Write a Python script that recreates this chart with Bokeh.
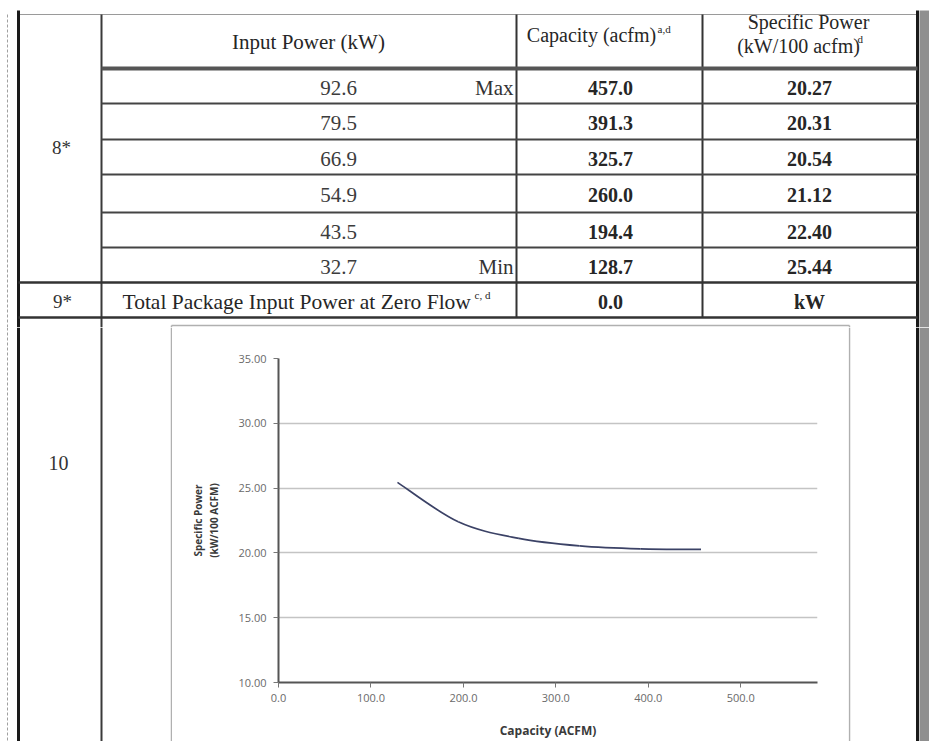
from bokeh.plotting import figure
from bokeh.layouts import column, row
from bokeh.models import Range1d, FixedTicker
from bokeh.core.properties import value
from bokeh.embed import file_html
from bokeh.resources import INLINE

# ---------------- data ----------------
input_power = [92.6, 79.5, 66.9, 54.9, 43.5, 32.7]          # kW
capacity = [457.0, 391.3, 325.7, 260.0, 194.4, 128.7]        # acfm
specific_power = [20.27, 20.31, 20.54, 21.12, 22.40, 25.44]  # kW/100 acfm
range_notes = ["Max", "", "", "", "", "Min"]
zero_flow_power = 0.0
zero_flow_unit = "kW"
row_labels = ["8*", "9*", "10"]
zero_flow_text = "Total Package Input Power at Zero Flow"
zero_flow_sup = "c, d"
header_input = "Input Power (kW)"
header_capacity = "Capacity (acfm)"
header_capacity_sup = "a,d"
header_specific = ["Specific Power", "(kW/100 acfm)"]
header_specific_sup = "d"
x_ticks = [0, 100, 200, 300, 400, 500]
x_tick_labels = ["0.0", "100.0", "200.0", "300.0", "400.0", "500.0"]
y_ticks = [10, 15, 20, 25, 30, 35]
y_tick_labels = ["10.00", "15.00", "20.00", "25.00", "30.00", "35.00"]
x_axis_title = "Capacity (ACFM)"
y_axis_title = "Specific Power\n(kW/100 ACFM)"

# ---------------- layout constants (reference pixel coords) ----------------
X0, X1 = 0, 929
Y0, YS, Y1 = 0, 327, 741
LEFT_B, LABEL_V, COL1_V, COL2_V, RIGHT_B = 18, 101, 516, 702, 917
BOX_L, BOX_R, BOX_T = 171, 849, 325
TOP_EDGE = 14
row_lines = [68, 103, 139, 174, 212, 247, 282, 317]

SERIF = value("Liberation Serif")
INK = "#262626"


def canvas(x0, x1, y0, y1):
    p = figure(width=int(x1 - x0), height=int(y1 - y0),
               x_range=Range1d(x0, x1), y_range=Range1d(y1, y0),
               output_backend="svg", toolbar_location=None,
               x_axis_location=None, y_axis_location=None, min_border=0)
    p.frame_align = False
    p.grid.visible = False
    p.outline_line_color = None
    p.background_fill_color = "white"
    p.border_fill_color = "white"
    return p


# ---------------- top part: table ----------------
top = canvas(X0, X1, Y0, YS)

# torn top edge, left torn edge and right shadow
top.segment(x0=[LEFT_B], y0=[TOP_EDGE], x1=[RIGHT_B], y1=[TOP_EDGE], line_color="#9a9a9a", line_width=1.2)
top.quad(left=[RIGHT_B + 2], right=[X1], top=[TOP_EDGE - 4], bottom=[YS], fill_color="#8f8f8f", line_color=None)
top.segment(x0=[7], y0=[TOP_EDGE], x1=[7], y1=[YS], line_color="#a0a0a0", line_width=1, line_dash="3 2")

# vertical rules
top.segment(x0=[LEFT_B, RIGHT_B], y0=[TOP_EDGE - 4, TOP_EDGE - 4], x1=[LEFT_B, RIGHT_B], y1=[YS, YS],
            line_color="#1a1a1a", line_width=3)
top.segment(x0=[LABEL_V], y0=[TOP_EDGE], x1=[LABEL_V], y1=[YS], line_color="#3a3a3a", line_width=2)
top.segment(x0=[COL1_V, COL2_V], y0=[TOP_EDGE, TOP_EDGE], x1=[COL1_V, COL2_V], y1=[row_lines[-1]] * 2,
            line_color="#333333", line_width=2)

# horizontal rules
top.segment(x0=[LABEL_V], y0=[row_lines[0]], x1=[RIGHT_B], y1=[row_lines[0]], line_color="#555555", line_width=4)
top.segment(x0=[LABEL_V] * 5, y0=row_lines[1:6], x1=[RIGHT_B] * 5, y1=row_lines[1:6],
            line_color="#444444", line_width=2)
top.segment(x0=[LEFT_B] * 2, y0=row_lines[6:], x1=[RIGHT_B] * 2, y1=row_lines[6:],
            line_color="#333333", line_width=2.6)

# chart box top edge (row 10)
top.segment(x0=[BOX_L, BOX_L, BOX_R], y0=[BOX_T, BOX_T, BOX_T], x1=[BOX_R, BOX_L, BOX_R], y1=[BOX_T, YS, YS],
            line_color="#b0b0b0", line_width=1.5)

# header texts
top.text(x=[308], y=[41], text=[header_input], text_font=SERIF, text_font_size="21px",
         text_align="center", text_baseline="middle", text_color=INK)
top.text(x=[591], y=[34], text=[header_capacity], text_font=SERIF, text_font_size="20px",
         text_align="center", text_baseline="middle", text_color=INK)
top.text(x=[657], y=[28], text=[header_capacity_sup], text_font=SERIF, text_font_size="11px",
         text_align="left", text_baseline="middle", text_color=INK)
top.text(x=[808, 798], y=[21, 45], text=header_specific, text_font=SERIF, text_font_size="20px",
         text_align="center", text_baseline="middle", text_color=INK)
top.text(x=[857], y=[38], text=[header_specific_sup], text_font=SERIF, text_font_size="11px",
         text_align="left", text_baseline="middle", text_color=INK)

# data rows
row_y = [(row_lines[i] + row_lines[i + 1]) / 2 + 1.5 for i in range(6)]
top.text(x=[338] * 6, y=row_y, text=[f"{v:.1f}" for v in input_power], text_font=SERIF,
         text_font_size="21px", text_align="center", text_baseline="middle", text_color="#3c3c3c")
top.text(x=[513] * 6, y=row_y, text=range_notes, text_font=SERIF,
         text_font_size="21px", text_align="right", text_baseline="middle", text_color="#333333")
top.text(x=[610] * 6, y=row_y, text=[f"{v:.1f}" for v in capacity], text_font=SERIF,
         text_font_size="20px", text_font_style="bold", text_align="center", text_baseline="middle",
         text_color=INK)
top.text(x=[809] * 6, y=row_y, text=[f"{v:.2f}" for v in specific_power], text_font=SERIF,
         text_font_size="20px", text_font_style="bold", text_align="center", text_baseline="middle",
         text_color=INK)

# row 9
y9 = (row_lines[6] + row_lines[7]) / 2 + 1.5
top.text(x=[122], y=[y9], text=[zero_flow_text], text_font=SERIF, text_font_size="21.5px",
         text_align="left", text_baseline="middle", text_color=INK)
top.text(x=[474], y=[y9 - 7], text=[zero_flow_sup], text_font=SERIF, text_font_size="11px",
         text_align="left", text_baseline="middle", text_color=INK)
top.text(x=[610, 809], y=[y9, y9], text=[f"{zero_flow_power:.1f}", zero_flow_unit], text_font=SERIF,
         text_font_size="20px", text_font_style="bold", text_align="center", text_baseline="middle",
         text_color=INK)

# row labels
top.text(x=[61, 62], y=[147, y9], text=row_labels[:2], text_font=SERIF, text_font_size="19px",
         text_align="center", text_baseline="middle", text_color="#333333")

# ---------------- bottom part: row 10 with chart ----------------
left = canvas(X0, BOX_L + 1, YS, Y1)
left.segment(x0=[7], y0=[YS], x1=[7], y1=[Y1], line_color="#a0a0a0", line_width=1, line_dash="3 2")
left.segment(x0=[LEFT_B], y0=[YS], x1=[LEFT_B], y1=[Y1], line_color="#1a1a1a", line_width=3)
left.segment(x0=[LABEL_V], y0=[YS], x1=[LABEL_V], y1=[Y1], line_color="#3a3a3a", line_width=2)
left.segment(x0=[BOX_L], y0=[YS], x1=[BOX_L], y1=[Y1], line_color="#b0b0b0", line_width=1.5)
left.text(x=[58], y=[462], text=[row_labels[2]], text_font=SERIF, text_font_size="20px",
          text_align="center", text_baseline="middle", text_color="#333333")

right = canvas(BOX_R - 1, X1, YS, Y1)
right.segment(x0=[BOX_R], y0=[YS], x1=[BOX_R], y1=[Y1], line_color="#b0b0b0", line_width=1.5)
right.quad(left=[RIGHT_B + 2], right=[X1], top=[YS], bottom=[Y1], fill_color="#8f8f8f", line_color=None)
right.segment(x0=[RIGHT_B], y0=[YS], x1=[RIGHT_B], y1=[Y1], line_color="#1a1a1a", line_width=3)

# chart
FRAME_L, FRAME_R, FRAME_T, FRAME_B = 278, 817, 358, 682
chart_w = (BOX_R - 1) - (BOX_L + 1)
chart = figure(width=chart_w, height=Y1 - YS,
               x_range=Range1d(0, 583), y_range=Range1d(10, 35),
               output_backend="svg", toolbar_location=None,
               min_border_left=FRAME_L - (BOX_L + 1), min_border_right=(BOX_R - 1) - FRAME_R,
               min_border_top=FRAME_T - YS, min_border_bottom=Y1 - FRAME_B)
chart.frame_align = False
chart.outline_line_color = None
chart.background_fill_color = "white"
chart.border_fill_color = "white"

# smoothed (spreadsheet-style) line through the data points, as cubic Bezier segments
pts = sorted(zip(capacity, specific_power))
xs = [c for c, _ in pts]
ys = [s for _, s in pts]
n = len(pts)
bx0, by0, bx1, by1, cx0, cy0, cx1, cy1 = [], [], [], [], [], [], [], []
for i in range(n - 1):
    ip, inn = max(i - 1, 0), min(i + 2, n - 1)
    bx0.append(xs[i]); by0.append(ys[i])
    bx1.append(xs[i + 1]); by1.append(ys[i + 1])
    cx0.append(xs[i] + (xs[i + 1] - xs[ip]) / 6); cy0.append(ys[i] + (ys[i + 1] - ys[ip]) / 6)
    cx1.append(xs[i + 1] - (xs[inn] - xs[i]) / 6); cy1.append(ys[i + 1] - (ys[inn] - ys[i]) / 6)
chart.bezier(x0=bx0, y0=by0, x1=bx1, y1=by1, cx0=cx0, cy0=cy0, cx1=cx1, cy1=cy1,
             line_color="#3b4266", line_width=1.7)

chart.xgrid.visible = False
chart.ygrid.ticker = FixedTicker(ticks=y_ticks)
chart.ygrid.grid_line_color = "#c4c4c4"
chart.ygrid.grid_line_width = 1.3

chart.xaxis.ticker = FixedTicker(ticks=x_ticks)
chart.yaxis.ticker = FixedTicker(ticks=y_ticks)
chart.xaxis.major_label_overrides = {t: l for t, l in zip(x_ticks, x_tick_labels)}
chart.yaxis.major_label_overrides = {t: l for t, l in zip(y_ticks, y_tick_labels)}
for ax in (chart.xaxis, chart.yaxis):
    ax.axis_line_color = "#555555"
    ax.axis_line_width = 2
    ax.major_tick_line_color = "#777777"
    ax.major_tick_in = 0
    ax.major_tick_out = 5
    ax.minor_tick_line_color = None
    ax.major_label_text_font = "Open Sans"
    ax.major_label_text_font_size = "11px"
    ax.major_label_text_color = "#6a6a6a"
    ax.axis_label_text_font = "Open Sans"
    ax.axis_label_text_font_style = "bold"
    ax.axis_label_text_color = "#3a3a3a"
chart.xaxis.axis_label = x_axis_title
chart.yaxis.axis_label = y_axis_title
chart.xaxis.axis_label_text_font_size = "12px"
chart.yaxis.axis_label_text_font_size = "10px"
chart.xaxis.major_label_standoff = 6
chart.yaxis.major_label_standoff = 7
chart.xaxis.axis_label_standoff = 17
chart.yaxis.axis_label_standoff = 14

layout = column(top, row(left, chart, right, spacing=0), spacing=0)
open("out.html", "w").write(file_html(layout, INLINE))
